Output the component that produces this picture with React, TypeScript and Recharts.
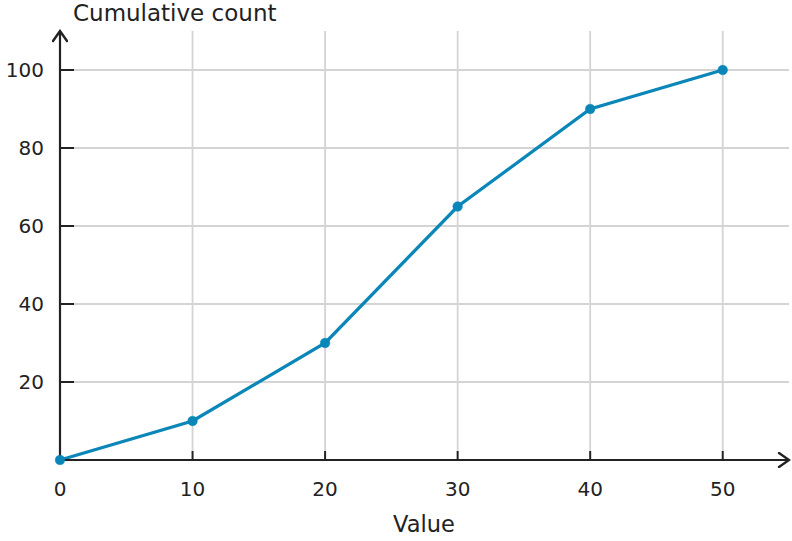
import React from 'react';
import { LineChart, Line, XAxis, YAxis, CartesianGrid } from 'recharts';

const values = [0, 10, 20, 30, 40, 50];
const counts = [0, 10, 30, 65, 90, 100];
const xTicks = [0, 10, 20, 30, 40, 50];
const yTicks = [20, 40, 60, 80, 100];
const xGrid = [10, 20, 30, 40, 50];

const data = values.map((v, i) => ({ value: v, count: counts[i] }));

const FONT = '"DejaVu Sans", sans-serif';
const INK = '#222222';
const LINE = '#0a86b8';
const GRID = '#d4d4d4';
const X_TICK = 9;
const Y_TICK = 14;

const HGrid = (p: any) => (
  <line x1={p.x1 + Y_TICK} y1={p.y1} x2={p.x2} y2={p.y2} stroke={GRID} strokeWidth={1.8} />
);
const VGrid = (p: any) => (
  <line x1={p.x1} y1={Math.min(p.y1, p.y2)} x2={p.x2} y2={Math.max(p.y1, p.y2) - X_TICK} stroke={GRID} strokeWidth={1.8} />
);

export default function App() {
  return (
    <div style={{ position: 'relative', width: 792, height: 541 }}>
      <style>{`body{margin:0}`}</style>
      <svg width={0} height={0} style={{ position: 'absolute' }}>
        <defs>
          <marker id="arrowHead" viewBox="0 0 14 16" refX="12" refY="8" markerWidth="14" markerHeight="16" markerUnits="userSpaceOnUse" orient="auto-start-reverse">
            <path d="M2,1 L12,8 L2,15" fill="none" stroke={INK} strokeWidth={2.4} strokeLinecap="round" strokeLinejoin="miter" />
          </marker>
        </defs>
      </svg>
      <LineChart width={792} height={541} data={data} margin={{ top: 31, right: 3, left: 0, bottom: 0 }}>
        <CartesianGrid
          stroke={GRID}
          strokeWidth={1.8}
          horizontalValues={yTicks}
          verticalValues={xGrid}
          horizontal={HGrid}
          vertical={VGrid}
        />
        <XAxis
          dataKey="value"
          type="number"
          domain={[0, 55]}
          ticks={xTicks}
          interval={0}
          height={81}
          tickSize={-X_TICK}
          tickMargin={31}
          tickLine={{ stroke: INK, strokeWidth: 2 }}
          axisLine={{ stroke: INK, strokeWidth: 2.2, markerEnd: 'url(#arrowHead)' } as any}
          tick={{ fill: INK, fontSize: 20, fontFamily: FONT }}
          label={{
            content: () => (
              <text x={424} y={524} textAnchor="middle" dominantBaseline="central" fontSize={22.5} fill={INK} fontFamily={FONT}>
                Value
              </text>
            ),
          }}
        />
        <YAxis
          type="number"
          domain={[0, 110]}
          ticks={yTicks}
          interval={0}
          width={60}
          tickSize={-Y_TICK}
          tickMargin={30}
          tickLine={{ stroke: INK, strokeWidth: 2 }}
          axisLine={{ stroke: INK, strokeWidth: 2.2, markerStart: 'url(#arrowHead)' } as any}
          tick={{ fill: INK, fontSize: 20, fontFamily: FONT }}
          label={{
            content: () => (
              <text x={73} y={13} textAnchor="start" dominantBaseline="central" fontSize={23} fill={INK} fontFamily={FONT}>
                Cumulative count
              </text>
            ),
          }}
        />
        <Line
          dataKey="count"
          stroke={LINE}
          strokeWidth={3.3}
          dot={{ r: 4.8, fill: LINE, stroke: LINE, strokeWidth: 0.5 }}
          isAnimationActive={false}
        />
      </LineChart>
    </div>
  );
}
